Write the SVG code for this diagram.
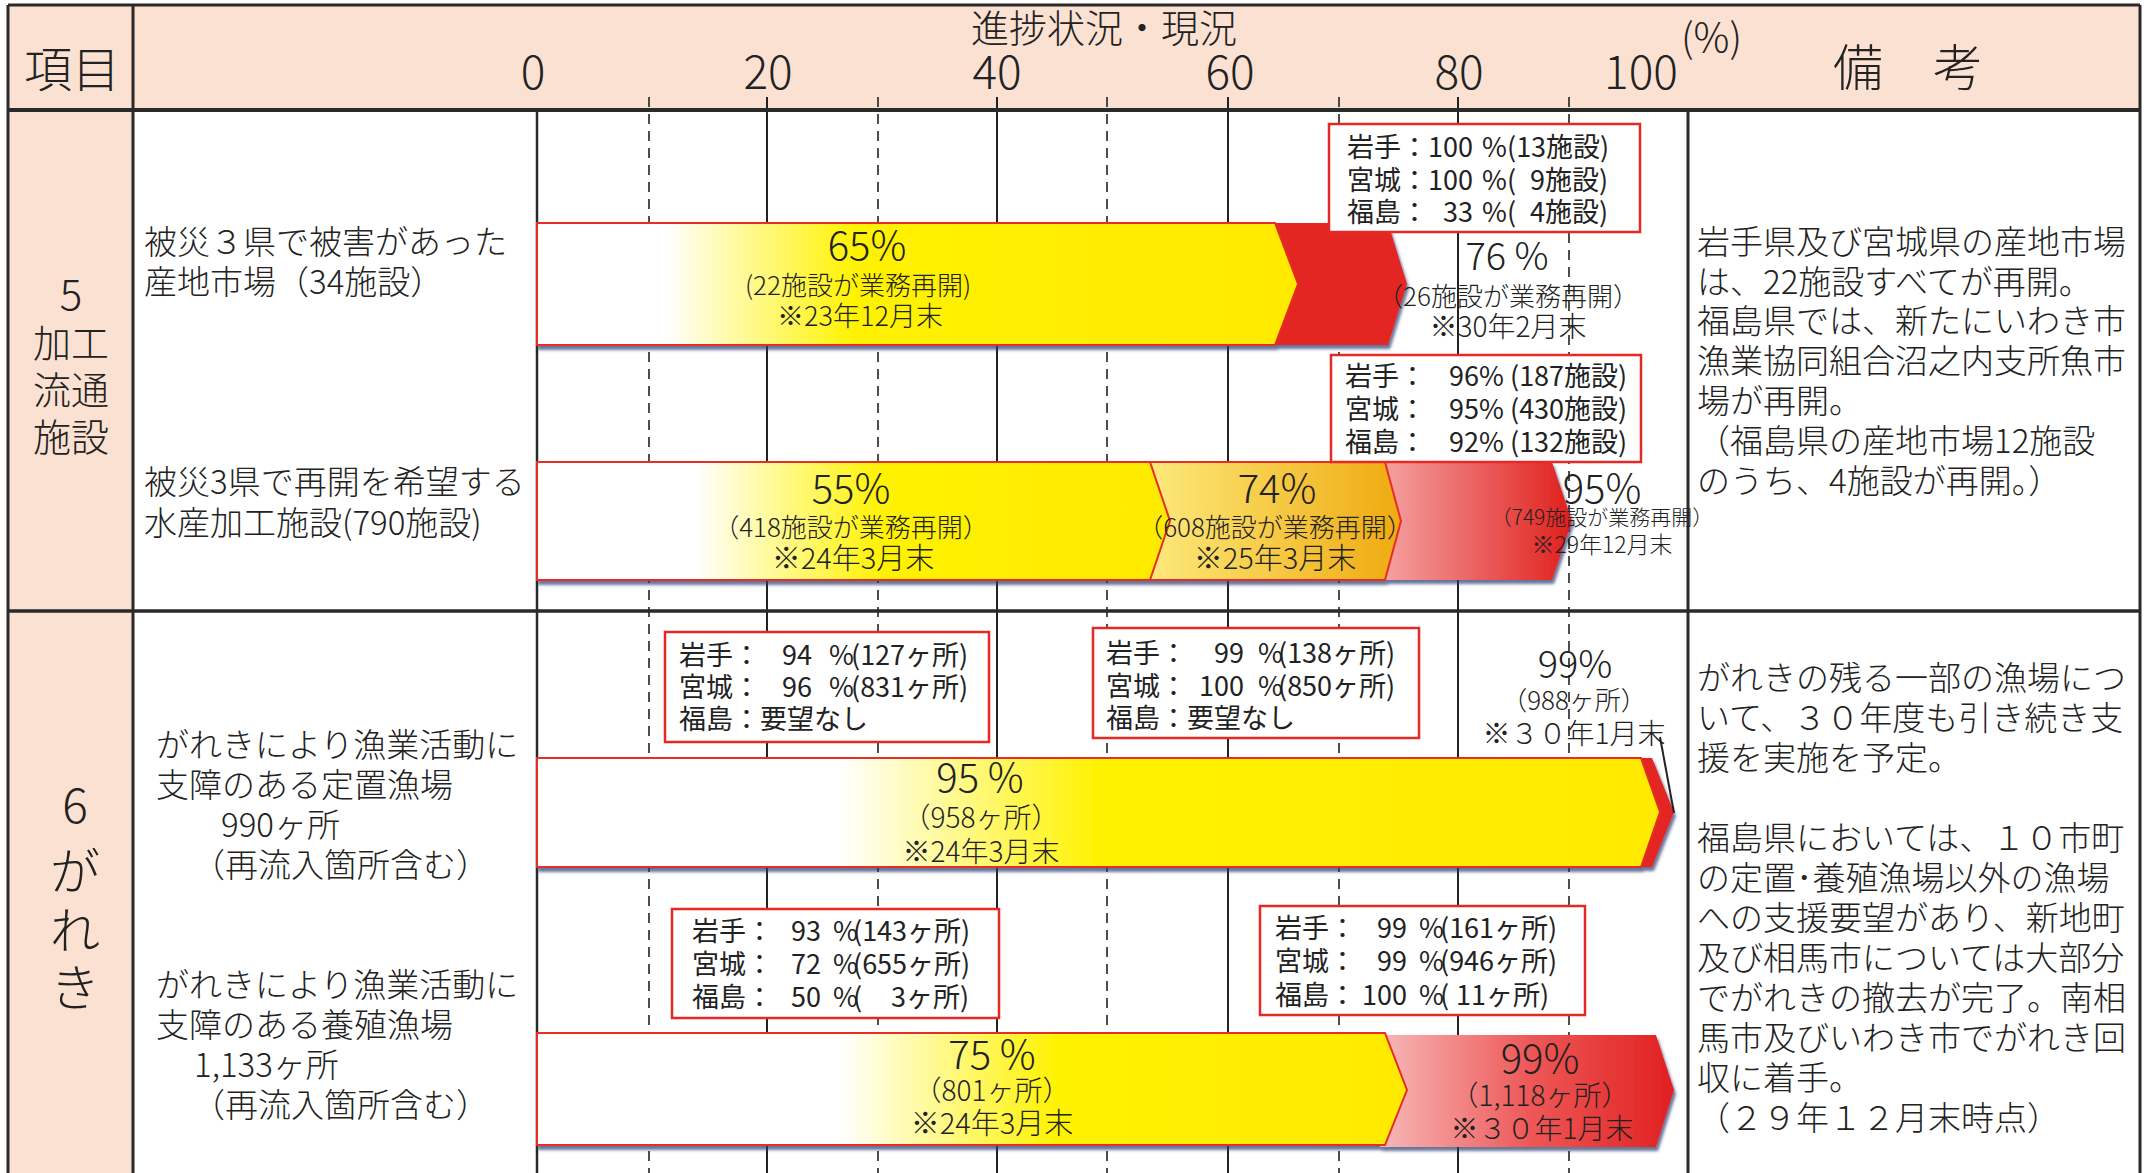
<svg xmlns="http://www.w3.org/2000/svg" width="2156" height="1173" viewBox="0 0 2156 1173">
<style>
.jp{font-family:"Noto Sans CJK JP","Noto Sans",sans-serif;fill:#222;font-weight:300}
.lbl{font-size:33px}
.rm{font-size:33px}
.box{font-size:27px;font-weight:400}
.ctr{text-anchor:middle}
.grid{stroke:#222;stroke-width:2}
.dash{stroke:#222;stroke-width:1.6;stroke-dasharray:10 7}
.frame{stroke:#2a2a2a;fill:none}
.ibox{fill:#fff;stroke:#e52a26;stroke-width:2.5}
.ybar{stroke:#e52d27;stroke-width:2}
.red{fill:#e42620}
</style>
<defs>
<filter id="sh" x="-5%" y="-10%" width="110%" height="130%">
<feDropShadow dx="2" dy="4" stdDeviation="1.5" flood-color="#2b3a70" flood-opacity="0.7"/>
</filter>
<linearGradient id="g1" gradientUnits="userSpaceOnUse" x1="537" y1="0" x2="1298" y2="0">
<stop offset="0" stop-color="#fff"/><stop offset="0.17" stop-color="#fff"/><stop offset="0.42" stop-color="#fff200"/><stop offset="1" stop-color="#ffea00"/>
</linearGradient>
<linearGradient id="g2" gradientUnits="userSpaceOnUse" x1="537" y1="0" x2="1170" y2="0">
<stop offset="0" stop-color="#fff"/><stop offset="0.25" stop-color="#fff"/><stop offset="0.55" stop-color="#fff200"/><stop offset="1" stop-color="#ffea00"/>
</linearGradient>
<linearGradient id="g2o" gradientUnits="userSpaceOnUse" x1="1150" y1="0" x2="1401" y2="0">
<stop offset="0" stop-color="#fde97a"/><stop offset="1" stop-color="#efaa10"/>
</linearGradient>
<linearGradient id="g2r" gradientUnits="userSpaceOnUse" x1="1385" y1="0" x2="1572" y2="0">
<stop offset="0" stop-color="#f5a0a0"/><stop offset="1" stop-color="#e0201c"/>
</linearGradient>
<linearGradient id="g3" gradientUnits="userSpaceOnUse" x1="537" y1="0" x2="1660" y2="0">
<stop offset="0" stop-color="#fff"/><stop offset="0.27" stop-color="#fff"/><stop offset="0.5" stop-color="#fff200"/><stop offset="1" stop-color="#ffea00"/>
</linearGradient>
<linearGradient id="g4" gradientUnits="userSpaceOnUse" x1="537" y1="0" x2="1407" y2="0">
<stop offset="0" stop-color="#fff"/><stop offset="0.35" stop-color="#fff"/><stop offset="0.6" stop-color="#fff200"/><stop offset="1" stop-color="#ffea00"/>
</linearGradient>
<linearGradient id="g4r" gradientUnits="userSpaceOnUse" x1="1385" y1="0" x2="1674" y2="0">
<stop offset="0" stop-color="#f7b5b5"/><stop offset="0.5" stop-color="#ee5858"/><stop offset="1" stop-color="#e12020"/>
</linearGradient>
</defs>

<rect x="0" y="0" width="2156" height="1173" fill="#fff"/>
<g id="table">
<rect x="8" y="5" width="2132" height="105" fill="#fbe1d2"/>
<rect x="8" y="110" width="125" height="1063" fill="#fbe1d2"/>
<g id="grid">
<line class="dash" x1="649" y1="97" x2="649" y2="1173"/>
<line class="dash" x1="878" y1="97" x2="878" y2="1173"/>
<line class="dash" x1="1107" y1="97" x2="1107" y2="1173"/>
<line class="dash" x1="1339" y1="97" x2="1339" y2="1173"/>
<line class="dash" x1="1569" y1="97" x2="1569" y2="1173"/>
<line class="grid" x1="767" y1="97" x2="767" y2="1173"/>
<line class="grid" x1="997" y1="97" x2="997" y2="1173"/>
<line class="grid" x1="1228" y1="97" x2="1228" y2="1173"/>
<line class="grid" x1="1458" y1="97" x2="1458" y2="1173"/>
</g>
<line class="frame" x1="8" y1="5" x2="2140" y2="5" stroke-width="3"/>
<line class="frame" x1="8" y1="5" x2="8" y2="1173" stroke-width="3"/>
<line class="frame" x1="2140" y1="5" x2="2140" y2="1173" stroke-width="3"/>
<line class="frame" x1="8" y1="110" x2="2140" y2="110" stroke-width="4"/>
<line class="frame" x1="8" y1="611" x2="2140" y2="611" stroke-width="3.5"/>
<line class="frame" x1="133" y1="5" x2="133" y2="1173" stroke-width="3"/>
<line class="frame" x1="537" y1="110" x2="537" y2="1173" stroke-width="2.5"/>
<line class="frame" x1="1688" y1="110" x2="1688" y2="1173" stroke-width="3"/>
</g>

<g id="header">
<text class="jp" x="24" y="87" font-size="48">項目</text>
<text class="jp ctr" x="1104" y="42" font-size="38">進捗状況・現況</text>
<g class="jp ctr" font-size="46">
<text x="533" y="89">0</text>
<text x="768" y="89">20</text>
<text x="997" y="89">40</text>
<text x="1230" y="89">60</text>
<text x="1459" y="89">80</text>
<text x="1641" y="89">100</text>
</g>
<text class="jp" x="1681" y="52" font-size="40">(%)</text>
<text class="jp" x="1833" y="86" font-size="50">備　考</text>
</g>

<g id="cat5" class="jp ctr">
<text x="71" y="310" font-size="42">5</text>
<text x="71" y="357" font-size="38">加工</text>
<text x="71" y="404" font-size="38">流通</text>
<text x="71" y="451" font-size="38">施設</text>
</g>
<g id="cat6" class="jp ctr">
<text x="75" y="823" font-size="48">6</text>
<text x="75" y="890" font-size="50">が</text>
<text x="75" y="949" font-size="50">れ</text>
<text x="75" y="1006" font-size="50">き</text>
</g>

<g id="label-market" class="jp lbl">
<text x="144" y="254">被災３県で被害があった</text>
<text x="144" y="294">産地市場（34施設）</text>
</g>
<g id="label-processing" class="jp lbl">
<text x="144" y="494">被災3県で再開を希望する</text>
<text x="144" y="535">水産加工施設(790施設)</text>
</g>
<g id="label-fixed" class="jp lbl">
<text x="156" y="757">がれきにより漁業活動に</text>
<text x="156" y="797">支障のある定置漁場</text>
<text x="221" y="837">990ヶ所</text>
<text x="192" y="877">（再流入箇所含む）</text>
</g>
<g id="label-culture" class="jp lbl">
<text x="156" y="997">がれきにより漁業活動に</text>
<text x="156" y="1037">支障のある養殖漁場</text>
<text x="194" y="1077">1,133ヶ所</text>
<text x="192" y="1117">（再流入箇所含む）</text>
</g>

<g id="bar-market" filter="url(#sh)">
<polygon class="red" points="1262,223 1388,223 1407,284 1388,345 1262,345"/>
<polygon class="ybar" fill="url(#g1)" points="537,223 1275,223 1298,284 1275,345 537,345"/>
</g>
<g id="bar-market-text" class="jp ctr">
<text x="867" y="260" font-size="40">65%</text>
<text x="858" y="295" font-size="26">(22施設が業務再開)</text>
<text x="860" y="326" font-size="27">※23年12月末</text>
<text x="1507" y="270" font-size="38">76 %</text>
<text x="1508" y="306" font-size="26">（26施設が業務再開）</text>
<text x="1508" y="337" font-size="28">※30年2月末</text>
</g>

<g id="bar-processing" filter="url(#sh)">
<polygon fill="url(#g2r)" points="1372,462 1552,462 1572,521 1552,580 1372,580"/>
<polygon class="ybar" fill="url(#g2o)" points="1150,462 1385,462 1401,521 1385,580 1150,580" stroke-width="1.5"/>
<polygon class="ybar" fill="url(#g2)" points="537,462 1150,462 1170,521 1150,580 537,580"/>
</g>
<g id="bar-processing-text" class="jp ctr">
<text x="851" y="503" font-size="40">55%</text>
<text x="851" y="537" font-size="26">（418施設が業務再開）</text>
<text x="853" y="569" font-size="29">※24年3月末</text>
<text x="1277" y="503" font-size="40">74%</text>
<text x="1275" y="537" font-size="26">（608施設が業務再開）</text>
<text x="1275" y="569" font-size="29">※25年3月末</text>
<text x="1602" y="503" font-size="40">95%</text>
<text x="1602" y="525" font-size="21">（749施設が業務再開）</text>
<text x="1602" y="553" font-size="23">※29年12月末</text>
</g>

<g id="bar-fixed" filter="url(#sh)">
<polygon class="red" points="1630,758 1652,758 1674,812 1652,867 1630,867"/>
<polygon class="ybar" fill="url(#g3)" points="537,758 1641,758 1660,812 1641,867 537,867"/>
</g>
<g id="bar-fixed-text" class="jp ctr">
<text x="980" y="792" font-size="40">95 %</text>
<text x="981" y="828" font-size="28">（958ヶ所）</text>
<text x="981" y="862" font-size="28">※24年3月末</text>
<text x="1575" y="678" font-size="38">99%</text>
<text x="1574" y="710" font-size="26">（988ヶ所）</text>
<text x="1574" y="744" font-size="28">※３０年1月末</text>
</g>

<g id="bar-culture" filter="url(#sh)">
<polygon fill="url(#g4r)" points="1380,1035 1656,1035 1674,1090 1656,1147 1380,1147"/>
<polygon class="ybar" fill="url(#g4)" points="537,1033 1385,1033 1407,1090 1385,1145 537,1145"/>
</g>
<g id="bar-culture-text" class="jp ctr">
<text x="992" y="1069" font-size="40">75 %</text>
<text x="992" y="1101" font-size="28">（801ヶ所）</text>
<text x="992" y="1134" font-size="29">※24年3月末</text>
<text x="1540" y="1073" font-size="40">99%</text>
<text x="1540" y="1106" font-size="28">（1,118ヶ所）</text>
<text x="1542" y="1139" font-size="28">※３０年1月末</text>
</g>

<g id="box-market">
<rect class="ibox" x="1329" y="124" width="311" height="108"/>
<text class="jp box" y="157"><tspan x="1347">岩手：</tspan><tspan x="1428">100</tspan><tspan x="1482">%</tspan><tspan x="1507">(13施設)</tspan></text>
<text class="jp box" y="190"><tspan x="1347">宮城：</tspan><tspan x="1428">100</tspan><tspan x="1482">%</tspan><tspan x="1507">(</tspan><tspan x="1530">9施設)</tspan></text>
<text class="jp box" y="222"><tspan x="1347">福島：</tspan><tspan x="1443">33</tspan><tspan x="1482">%</tspan><tspan x="1507">(</tspan><tspan x="1530">4施設)</tspan></text>
</g>
<g id="box-processing">
<rect class="ibox" x="1331" y="355" width="310" height="107"/>
<text class="jp box" y="386"><tspan x="1345">岩手：</tspan><tspan x="1449">96%</tspan><tspan x="1510">(187施設)</tspan></text>
<text class="jp box" y="419"><tspan x="1345">宮城：</tspan><tspan x="1449">95%</tspan><tspan x="1510">(430施設)</tspan></text>
<text class="jp box" y="452"><tspan x="1345">福島：</tspan><tspan x="1449">92%</tspan><tspan x="1510">(132施設)</tspan></text>
</g>
<g id="box-fixed-1">
<rect class="ibox" x="665" y="632" width="324" height="110"/>
<text class="jp box" y="665"><tspan x="679">岩手：</tspan><tspan x="782">94</tspan><tspan x="829">%</tspan><tspan x="851">(127ヶ所)</tspan></text>
<text class="jp box" y="697"><tspan x="679">宮城：</tspan><tspan x="782">96</tspan><tspan x="829">%</tspan><tspan x="851">(831ヶ所)</tspan></text>
<text class="jp box" y="729"><tspan x="679">福島：要望なし</tspan></text>
</g>
<g id="box-fixed-2">
<rect class="ibox" x="1093" y="628" width="326" height="110"/>
<text class="jp box" y="663"><tspan x="1106">岩手：</tspan><tspan x="1214">99</tspan><tspan x="1258">%</tspan><tspan x="1278">(138ヶ所)</tspan></text>
<text class="jp box" y="696"><tspan x="1106">宮城：</tspan><tspan x="1199">100</tspan><tspan x="1258">%</tspan><tspan x="1278">(850ヶ所)</tspan></text>
<text class="jp box" y="728"><tspan x="1106">福島：要望なし</tspan></text>
</g>
<g id="box-culture-1">
<rect class="ibox" x="672" y="909" width="327" height="109"/>
<text class="jp box" y="941"><tspan x="692">岩手：</tspan><tspan x="791">93</tspan><tspan x="833">%</tspan><tspan x="853">(143ヶ所)</tspan></text>
<text class="jp box" y="974"><tspan x="692">宮城：</tspan><tspan x="791">72</tspan><tspan x="833">%</tspan><tspan x="853">(655ヶ所)</tspan></text>
<text class="jp box" y="1007"><tspan x="692">福島：</tspan><tspan x="791">50</tspan><tspan x="833">%</tspan><tspan x="853">(</tspan><tspan x="891">3ヶ所)</tspan></text>
</g>
<g id="box-culture-2">
<rect class="ibox" x="1260" y="906" width="325" height="109"/>
<text class="jp box" y="938"><tspan x="1275">岩手：</tspan><tspan x="1377">99</tspan><tspan x="1419">%</tspan><tspan x="1440">(161ヶ所)</tspan></text>
<text class="jp box" y="971"><tspan x="1275">宮城：</tspan><tspan x="1377">99</tspan><tspan x="1419">%</tspan><tspan x="1440">(946ヶ所)</tspan></text>
<text class="jp box" y="1005"><tspan x="1275">福島：</tspan><tspan x="1362">100</tspan><tspan x="1419">%</tspan><tspan x="1440">(</tspan><tspan x="1456">11ヶ所)</tspan></text>
</g>

<g id="remarks-5" class="jp rm">
<text x="1697" y="254">岩手県及び宮城県の産地市場</text>
<text x="1697" y="294">は、22施設すべてが再開。</text>
<text x="1697" y="333">福島県では、新たにいわき市</text>
<text x="1697" y="373">漁業協同組合沼之内支所魚市</text>
<text x="1697" y="413">場が再開。</text>
<text x="1697" y="453">（福島県の産地市場12施設</text>
<text x="1697" y="493">のうち、4施設が再開。）</text>
</g>
<g id="remarks-6" class="jp rm">
<text x="1697" y="690">がれきの残る一部の漁場につ</text>
<text x="1697" y="730">いて、３０年度も引き続き支</text>
<text x="1697" y="770">援を実施を予定。</text>
<text x="1697" y="850">福島県においては、１０市町</text>
<text x="1697" y="890">の定置･養殖漁場以外の漁場</text>
<text x="1697" y="930">への支援要望があり、新地町</text>
<text x="1697" y="970">及び相馬市については大部分</text>
<text x="1697" y="1010">でがれきの撤去が完了。南相</text>
<text x="1697" y="1050">馬市及びいわき市でがれき回</text>
<text x="1697" y="1090">収に着手。</text>
<text x="1697" y="1130">（２９年１２月末時点）</text>
</g>

<g id="connectors">
<line x1="1660" y1="737" x2="1674" y2="813" stroke="#222" stroke-width="2"/>
</g>
</svg>
